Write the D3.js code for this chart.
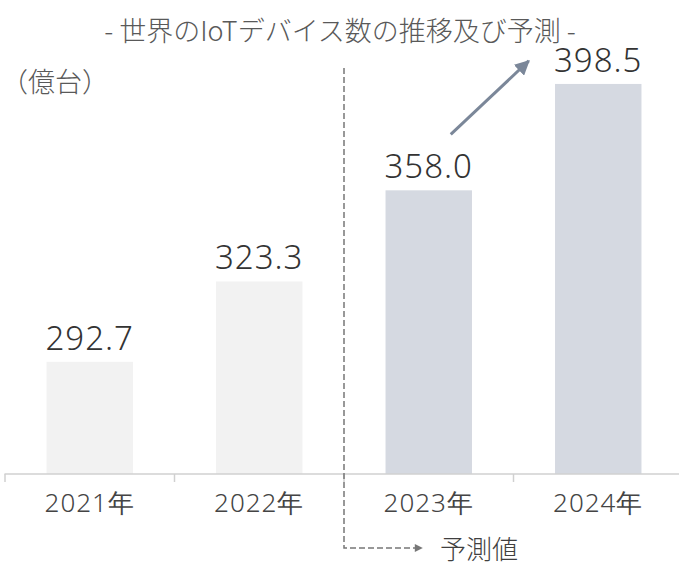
<!DOCTYPE html>
<html>
<head>
<meta charset="utf-8">
<script src="https://cdn.jsdelivr.net/npm/d3@7"></script>
<style>
  body { margin: 0; background: #fff; }
  svg { display: block; }
</style>
</head>
<body>
<div id="chart-area"></div>
<script>
// data
const years = ["2021年", "2022年", "2023年", "2024年"];
const values = [292.7, 323.3, 358.0, 398.5];
const forecast = [false, false, true, true];

const titleText = "- 世界のIoTデバイス数の推移及び予測 -";
const unitText = "（億台）";
const forecastLabel = "予測値";

let width = 679, height = 566;
let jp = "'Noto Sans CJK JP', 'Noto Sans', sans-serif";
let num = "'Noto Sans', sans-serif";

let svg = d3.select("#chart-area").append("svg")
    .attr("width", width)
    .attr("height", height);

let x = d3.scaleBand()
    .domain(years)
    .range([5, 683])
    .paddingInner(0.49)
    .paddingOuter(0.245);

let y = d3.scaleLinear()
    .domain([250, 400])
    .range([474, 80]);

svg.append("defs").append("marker")
    .attr("id", "arrow-gray")
    .attr("viewBox", "0 0 10 10")
    .attr("refX", 9).attr("refY", 5)
    .attr("markerWidth", 5).attr("markerHeight", 5)
    .attr("markerUnits", "strokeWidth")
    .attr("orient", "auto")
    .append("path")
    .attr("d", "M0,0 L10,5 L0,10 Z")
    .attr("fill", "#7b8799");

svg.select("defs").append("marker")
    .attr("id", "arrow-dark")
    .attr("viewBox", "0 0 10 10")
    .attr("refX", 9).attr("refY", 5)
    .attr("markerWidth", 10).attr("markerHeight", 8)
    .attr("markerUnits", "userSpaceOnUse")
    .attr("orient", "auto")
    .append("path")
    .attr("d", "M0,0 L10,5 L0,10 Z")
    .attr("fill", "#777");

// bars
svg.selectAll(".bar")
    .data(values)
    .enter().append("rect")
    .attr("class", "bar")
    .attr("x", (d, i) => x(years[i]))
    .attr("width", x.bandwidth())
    .attr("y", d => y(d))
    .attr("height", d => y(250) - y(d))
    .attr("fill", (d, i) => forecast[i] ? "#d5d9e1" : "#f2f2f2");

// value labels
svg.selectAll(".val")
    .data(values)
    .enter().append("text")
    .attr("class", "val")
    .attr("x", (d, i) => x(years[i]) + x.bandwidth() / 2)
    .attr("y", d => y(d) - 12)
    .attr("text-anchor", "middle")
    .style("font-family", num)
    .style("font-weight", 300)
    .style("font-size", "33px")
    .style("letter-spacing", "1px")
    .attr("fill", "#333")
    .text(d => d.toFixed(1));

// x axis
let xAxis = svg.append("g")
    .attr("class", "x-axis")
    .attr("transform", "translate(0,474)")
    .call(d3.axisBottom(x).tickSize(0).tickPadding(20));
xAxis.select(".domain").attr("d", "M4.5,0H679").attr("stroke", "#d0d0d0").attr("stroke-width", 1.5);
xAxis.selectAll("text")
    .style("font-family", num)
    .style("font-weight", 300)
    .style("font-size", "26px")
    .style("letter-spacing", "1px")
    .attr("fill", "#444");

// tick separators between bands
let seps = [x(years[0]) - x.step() * x.paddingInner() / 2];
years.forEach(d => seps.push(x(d) + x.bandwidth() + x.step() * x.paddingInner() / 2));
xAxis.selectAll(".sep")
    .data(seps)
    .enter().append("line")
    .attr("class", "sep")
    .attr("x1", d => d).attr("x2", d => d)
    .attr("y1", 0).attr("y2", 8)
    .attr("stroke", "#d0d0d0")
    .attr("stroke-width", 1.5);

// title
svg.append("text")
    .attr("x", 340)
    .attr("y", 41)
    .attr("text-anchor", "middle")
    .style("font-family", jp)
    .style("font-weight", 300)
    .style("font-size", "27px")
    .attr("fill", "#595959")
    .text(titleText);

svg.append("text")
    .attr("x", 1)
    .attr("y", 92)
    .style("font-family", jp)
    .style("font-weight", 300)
    .style("font-size", "27px")
    .attr("fill", "#595959")
    .text(unitText);

// forecast divider
let divX = (x(years[1]) + x.bandwidth() + x(years[2])) / 2;
svg.append("path")
    .attr("d", "M" + divX + ",68 V548 H422")
    .attr("fill", "none")
    .attr("stroke", "#777")
    .attr("stroke-width", 1.5)
    .attr("stroke-dasharray", "6,3")
    .attr("marker-end", "url(#arrow-dark)");

svg.append("text")
    .attr("x", 440)
    .attr("y", 559)
    .style("font-family", jp)
    .style("font-weight", 300)
    .style("font-size", "26px")
    .attr("fill", "#404040")
    .text(forecastLabel);

// growth arrow
let x3 = x(years[2]) + x.bandwidth() / 2;
svg.append("line")
    .attr("x1", x3 + 22).attr("y1", y(values[2]) - 56)
    .attr("x2", x3 + 100).attr("y2", y(values[3]) - 23)
    .attr("stroke", "#7b8799")
    .attr("stroke-width", 3)
    .attr("marker-end", "url(#arrow-gray)");
</script>
</body>
</html>
